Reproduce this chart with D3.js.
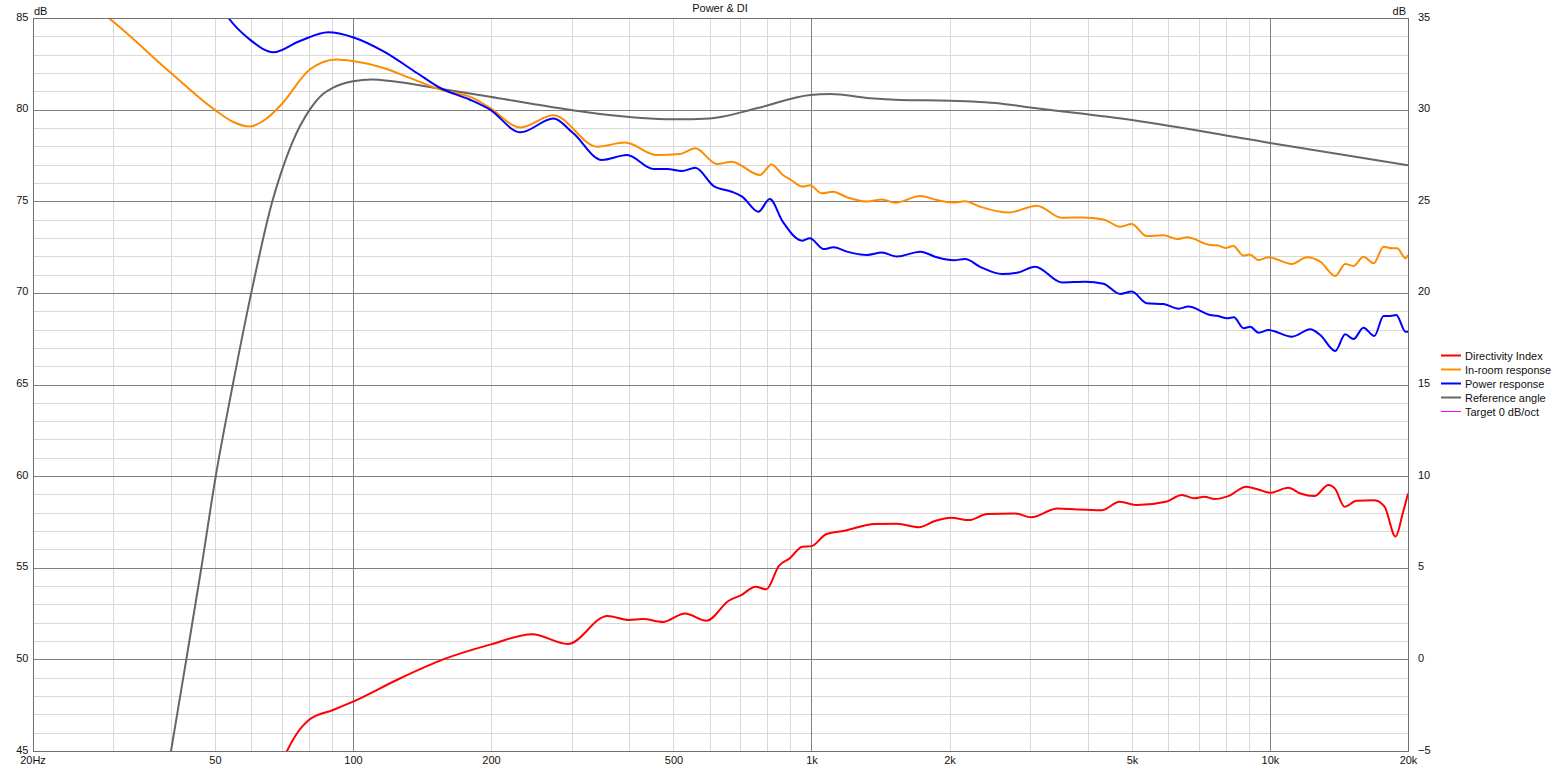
<!DOCTYPE html>
<html>
<head>
<meta charset="utf-8">
<script src="https://cdn.jsdelivr.net/npm/d3@7"></script>
<style>
  html, body { margin: 0; padding: 0; background: #fff; }
  svg { display: block; }
  text { font-family: "Liberation Sans", Arial, sans-serif; font-size: 11px; fill: #111; }
</style>
</head>
<body>
<svg id="chart" width="1560" height="769"></svg>
<script>
// ---------------- data ----------------
const chartTitle = "Power & DI";
const xTickValues = [20, 50, 100, 200, 500, 1000, 2000, 5000, 10000, 20000];
const xTickLabels = ["20Hz", "50", "100", "200", "500", "1k", "2k", "5k", "10k", "20k"];
const leftTicks = [45, 50, 55, 60, 65, 70, 75, 80, 85];
const rightTicks = [-5, 0, 5, 10, 15, 20, 25, 30, 35];

const legendNames = ["Directivity Index", "In-room response", "Power response", "Reference angle", "Target 0 dB/oct"];
const legendColors = ["#ff0000", "#ff8c00", "#0000ff", "#666666", "#ff00ff"];

// Reference angle (left axis, dB)
const referenceAngle = [
  [37.2, 40], [40.1, 45], [43.3, 50], [46.7, 55], [50.2, 60], [54.7, 65], [60, 70], [66.7, 75],
  [69.8, 76.6], [74, 78.3], [80.5, 80], [86, 80.85], [90.5, 81.2], [100, 81.55], [110, 81.65], [122, 81.55], [155, 81.14],
  [199, 80.7], [269, 80.16], [346, 79.76], [500, 79.47], [600, 79.52], [760, 80.07], [994, 80.8],
  [1100, 80.85], [1343, 80.62], [1562, 80.53], [2007, 80.49], [2580, 80.34], [3000, 80.12],
  [5000, 79.43], [10000, 78.18], [20000, 76.97]
];

// In-room response (left axis, dB)
const inRoom = [
  [26.5, 85.8], [29.3, 85], [39.8, 82.07], [49.9, 80], [54.7, 79.34], [59.5, 79.08], [64.7, 79.5],
  [69.8, 80.28], [80.5, 82.19], [92, 82.74], [100, 82.65], [116.6, 82.27], [133, 81.73], [155, 81.09],
  [183, 80.63], [199, 80.09], [231.8, 79.03], [273.6, 79.69], [341, 77.98], [392, 78.2], [460, 77.52],
  [517, 77.58], [558, 77.89], [622, 77.03], [670, 77.16], [772, 76.43], [818, 77.01], [866, 76.43],
  [898, 76.2], [955, 75.8], [992, 75.87], [1054, 75.43], [1114, 75.52], [1195, 75.22], [1321, 74.98],
  [1425, 75.1], [1523, 74.92], [1727, 75.29], [1877, 75.07], [2040, 74.93], [2163, 75.0], [2334, 74.7],
  [2691, 74.38], [3101, 74.76], [3516, 74.1], [3887, 74.12], [4334, 74.01], [4713, 73.61], [4993, 73.76],
  [5386, 73.1], [5860, 73.14], [6272, 72.94], [6598, 73.03], [7409, 72.61], [7669, 72.6], [7996, 72.45],
  [8313, 72.56], [8759, 72.03], [9025, 72.1], [9445, 71.79], [9930, 71.94], [11166, 71.58], [12045, 71.94],
  [12870, 71.7], [13880, 70.92], [14590, 71.58], [15210, 71.47], [15990, 71.97], [16830, 71.61],
  [17690, 72.52], [18460, 72.43], [18930, 72.43], [19760, 71.89], [20000, 72.07]
];

// Power response (left axis, dB)
const powerResp = [
  [49, 86.5], [53.5, 85], [59.6, 83.82], [67, 83.13], [76.4, 83.73], [88.3, 84.22], [100.3, 83.94],
  [116.6, 83.18], [137.9, 82.0], [155, 81.18], [180, 80.54], [199, 80.0], [231.8, 78.76], [273.6, 79.51],
  [302, 78.72], [349, 77.25], [396, 77.52], [452, 76.76], [484, 76.76], [522, 76.65], [558, 76.83],
  [612, 75.83], [670, 75.52], [706, 75.25], [766, 74.43], [811, 75.12], [866, 73.88], [955, 72.85],
  [992, 72.98], [1063, 72.39], [1117, 72.49], [1195, 72.25], [1321, 72.07], [1425, 72.2], [1536, 71.98],
  [1727, 72.25], [1877, 71.94], [2040, 71.78], [2163, 71.85], [2334, 71.42], [2605, 71.03], [2808, 71.1],
  [3076, 71.43], [3516, 70.57], [3955, 70.61], [4334, 70.5], [4713, 69.94], [4993, 70.07], [5386, 69.43],
  [5860, 69.39], [6322, 69.14], [6636, 69.25], [7409, 68.79], [7669, 68.75], [8064, 68.61], [8339, 68.67],
  [8759, 68.07], [9055, 68.15], [9445, 67.83], [9930, 67.97], [11166, 67.61], [12240, 68.01], [12870, 67.7],
  [13880, 66.83], [14590, 67.74], [15210, 67.48], [15990, 68.1], [16890, 67.65], [17690, 68.74],
  [18300, 68.74], [18860, 68.79], [19760, 67.88], [20000, 67.88]
];

// Directivity index (right axis, dB)
const directivity = [
  [68, -6.5], [71.8, -5], [75.2, -4.1], [80.5, -3.27], [90.5, -2.76], [100, -2.31], [126.8, -1.03],
  [157.3, 0.0], [200, 0.82], [246, 1.37], [294, 0.84], [359, 2.37], [400, 2.15],
  [429, 2.2], [474, 2.04], [530, 2.51], [590, 2.11], [660, 3.2], [703, 3.51], [755, 3.97], [797, 3.82],
  [849, 5.1], [896, 5.51], [955, 6.15], [1000, 6.18], [1078, 6.84], [1181, 7.02], [1374, 7.39],
  [1535, 7.4], [1715, 7.21], [1858, 7.55], [2015, 7.73], [2207, 7.6], [2416, 7.93], [2782, 7.96],
  [3013, 7.75], [3437, 8.24], [3800, 8.18], [4294, 8.14], [4700, 8.6], [5138, 8.42], [5925, 8.6],
  [6427, 8.97], [6837, 8.79], [7197, 8.88], [7570, 8.75], [8107, 8.91], [8874, 9.42], [9424, 9.27],
  [10000, 9.09], [10962, 9.36], [11650, 9.05], [12500, 8.91], [13416, 9.52], [13850, 9.33],
  [14540, 8.33], [15450, 8.66], [16900, 8.69], [17780, 8.33], [18790, 6.7], [19480, 7.97], [20000, 9.05]
];

// ---------------- layout ----------------
const svg = d3.select("#chart");
const L = 32.5, R = 1408, T = 18, B = 751;

const x = d3.scaleLog().domain([20, 20000]).range([L, R]);
const yL = d3.scaleLinear().domain([45, 85]).range([B, T]);
const yR = d3.scaleLinear().domain([-5, 35]).range([B, T]);

// grid
const minorX = [];
[10, 100, 1000, 10000].forEach(d => { for (let k = 1; k <= 9; k++) { const f = d * k; if (f > 20 && f < 20000) minorX.push(f); } });
const majorX = [100, 1000, 10000];
const minorY = d3.range(46, 85, 1).filter(v => v % 5 !== 0);
const majorY = leftTicks.filter(v => v > 45 && v < 85);

const grid = svg.append("g").attr("shape-rendering", "crispEdges");
grid.selectAll(".mx").data(minorX.filter(f => !majorX.includes(f))).join("line")
  .attr("x1", d => Math.round(x(d)) + 0.5).attr("x2", d => Math.round(x(d)) + 0.5)
  .attr("y1", T).attr("y2", B).attr("stroke", "#d9d9d9");
grid.selectAll(".my").data(minorY).join("line")
  .attr("y1", d => Math.round(yL(d)) + 0.5).attr("y2", d => Math.round(yL(d)) + 0.5)
  .attr("x1", L).attr("x2", R).attr("stroke", "#d9d9d9");
grid.selectAll(".Mx").data(majorX).join("line")
  .attr("x1", d => Math.round(x(d)) + 0.5).attr("x2", d => Math.round(x(d)) + 0.5)
  .attr("y1", T).attr("y2", B).attr("stroke", "#808080");
grid.selectAll(".My").data(majorY).join("line")
  .attr("y1", d => Math.round(yL(d)) + 0.5).attr("y2", d => Math.round(yL(d)) + 0.5)
  .attr("x1", L).attr("x2", R).attr("stroke", "#808080");

// clip
svg.append("clipPath").attr("id", "plotclip").append("rect")
  .attr("x", L).attr("y", T).attr("width", R - L).attr("height", B - T);

const lineL = d3.line().x(d => x(d[0])).y(d => yL(d[1])).curve(d3.curveMonotoneX);
const lineR = d3.line().x(d => x(d[0])).y(d => yR(d[1])).curve(d3.curveMonotoneX);

const curves = svg.append("g").attr("clip-path", "url(#plotclip)");
curves.append("path").datum(referenceAngle).attr("d", lineL)
  .attr("fill", "none").attr("stroke", legendColors[3]).attr("stroke-width", 2);
curves.append("path").datum(inRoom).attr("d", lineL)
  .attr("fill", "none").attr("stroke", legendColors[1]).attr("stroke-width", 2);
curves.append("path").datum(powerResp).attr("d", lineL)
  .attr("fill", "none").attr("stroke", legendColors[2]).attr("stroke-width", 2);
curves.append("path").datum(directivity).attr("d", lineR)
  .attr("fill", "none").attr("stroke", legendColors[0]).attr("stroke-width", 2);

// frame
svg.append("rect").attr("x", Math.round(L) + 0.5).attr("y", T + 0.5)
  .attr("width", Math.round(R) - Math.round(L)).attr("height", B - T)
  .attr("fill", "none").attr("stroke", "#707070").attr("shape-rendering", "crispEdges");

// axes (labels only, using d3 axes)
const axB = d3.axisBottom(x).tickValues(xTickValues).tickFormat((d, i) => xTickLabels[i]).tickSize(0).tickPadding(5);
const gB = svg.append("g").attr("transform", `translate(0,${B})`).call(axB);
gB.select(".domain").remove();
gB.selectAll("text").attr("font-size", 11).attr("font-family", "Liberation Sans, Arial, sans-serif").attr("fill", "#111");

const axL = d3.axisLeft(yL).tickValues(leftTicks).tickSize(0).tickPadding(4);
const gL = svg.append("g").attr("transform", `translate(${L},-1.5)`).call(axL);
gL.select(".domain").remove();
gL.selectAll("text").attr("font-size", 11).attr("font-family", "Liberation Sans, Arial, sans-serif").attr("fill", "#111");

const axR = d3.axisRight(yR).tickValues(rightTicks).tickSize(0).tickPadding(10);
const gR = svg.append("g").attr("transform", `translate(${R},-1.5)`).call(axR);
gR.select(".domain").remove();
gR.selectAll("text").attr("font-size", 11).attr("font-family", "Liberation Sans, Arial, sans-serif").attr("fill", "#111");

// unit labels and title
svg.append("text").attr("x", 34).attr("y", 14.5).text("dB");
svg.append("text").attr("x", 1406).attr("y", 14.5).attr("text-anchor", "end").text("dB");
svg.append("text").attr("x", 720).attr("y", 11.5).attr("text-anchor", "middle").text(chartTitle);

// legend
const lg = svg.append("g");
legendNames.forEach((name, i) => {
  const yy = 355.5 + i * 14;
  lg.append("line").attr("x1", 1441).attr("x2", 1461).attr("y1", yy).attr("y2", yy)
    .attr("stroke", legendColors[i]).attr("stroke-width", i === 4 ? 1 : 2);
  lg.append("text").attr("x", 1465).attr("y", yy + 4).text(name);
});
</script>
</body>
</html>
